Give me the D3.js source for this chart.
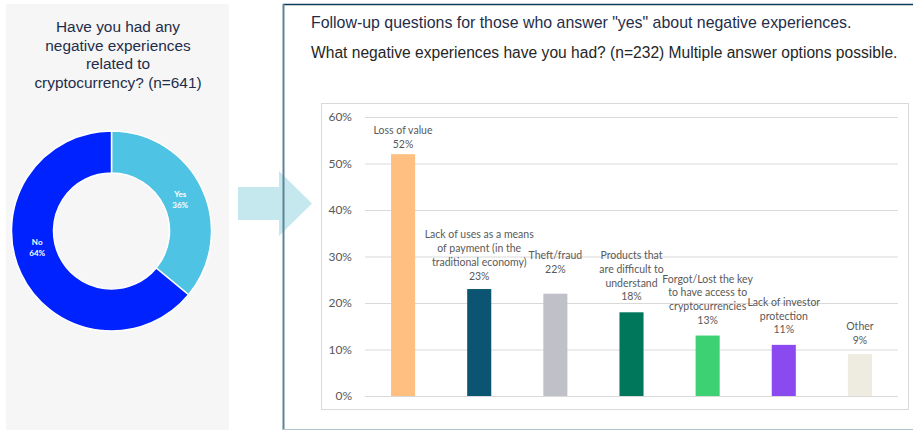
<!DOCTYPE html>
<html>
<head>
<meta charset="utf-8">
<script src="https://cdn.jsdelivr.net/npm/d3@7"></script>
<style>
  html, body { margin: 0; padding: 0; background: #ffffff; }
  svg { display: block; }
</style>
</head>
<body>
<svg id="chart" width="913" height="430"></svg>
<script>
// Donut: had negative experiences with cryptocurrency (n=641)
const donutLabels = ["Yes", "No"];
const donutValues = [36, 64];
const donutColors = ["#4fc3e3", "#0022ff"];

// Bars: negative experiences among "yes" respondents (n=232)
const barCategories = [
  ["Loss of value"],
  ["Lack of uses as a means", "of payment (in the", "traditional economy)"],
  ["Theft/fraud"],
  ["Products that", "are difficult to", "understand"],
  ["Forgot/Lost the key", "to have access to", "cryptocurrencies"],
  ["Lack of investor", "protection"],
  ["Other"]
];
const barValues = [52, 23, 22, 18, 13, 11, 9];
const barColors = ["#ffbf80", "#0b5572", "#bfc0c8", "#00775a", "#3ed174", "#8b4af0", "#eeebe0"];
const yTicks = [0, 10, 20, 30, 40, 50, 60];

const svg = d3.select("#chart");

// ---------- left panel ----------
svg.append("rect")
  .attr("x", 6).attr("y", 4).attr("width", 223).attr("height", 426)
  .attr("fill", "#f6f6f6");

const titleLines = ["Have you had any", "negative experiences", "related to", "cryptocurrency? (n=641)"];
svg.append("text")
  .attr("x", 118).attr("y", 32)
  .attr("text-anchor", "middle")
  .attr("font-family", "Liberation Sans, Arial, sans-serif")
  .attr("font-size", 15.4)
  .attr("fill", "#1f2d4a")
  .selectAll("tspan").data(titleLines).join("tspan")
  .attr("x", 118).attr("dy", (d, i) => i === 0 ? 0 : 18.5)
  .text(d => d);

const cx = 111.5, cy = 231, rOuter = 100, rInner = 58;
const pie = d3.pie().sort(null).value(d => d.value);
const arc = d3.arc().innerRadius(rInner).outerRadius(rOuter);
const donutData = pie(donutLabels.map((l, i) => ({ label: l, value: donutValues[i], color: donutColors[i] })));
const dg = svg.append("g").attr("transform", `translate(${cx},${cy})`);
dg.selectAll("path").data(donutData).join("path")
  .attr("d", arc)
  .attr("fill", d => d.data.color)
  .attr("stroke", "#ffffff")
  .attr("stroke-width", 1.5);

// label anchor inside the ring; the large slice's label sits a little past its midpoint
const labelPos = d => {
  const f = (d.endAngle - d.startAngle) > Math.PI ? 0.557 : 0.5;
  const a = d.startAngle + (d.endAngle - d.startAngle) * f;
  const r = 76;
  return [Math.sin(a) * r, -Math.cos(a) * r];
};
dg.selectAll("text.dl").data(donutData).join("text")
  .attr("class", "dl")
  .attr("transform", d => `translate(${labelPos(d)})`)
  .attr("text-anchor", "middle")
  .attr("font-family", "Lato, Open Sans, sans-serif")
  .attr("font-size", 8)
  .attr("font-weight", "bold")
  .attr("fill", "#ffffff")
  .each(function (d) {
    const t = d3.select(this);
    t.append("tspan").attr("x", 0).attr("dy", -2).text(d.data.label);
    t.append("tspan").attr("x", 0).attr("dy", 11).text(d.data.value + "%");
  });

// ---------- arrow ----------
svg.append("path")
  .attr("d", d3.line()([[238, 187], [279, 187], [279, 171], [312, 203.5], [279, 236], [279, 220], [238, 220]]) + "Z")
  .attr("fill", "#c5e8ef");

// ---------- right panel frame ----------
svg.append("line").attr("x1", 283).attr("x2", 913).attr("y1", 4.5).attr("y2", 4.5)
  .attr("stroke", "#0d3b5e").attr("stroke-width", 1.5);
svg.append("line").attr("x1", 283.5).attr("x2", 283.5).attr("y1", 4).attr("y2", 430)
  .attr("stroke", "#5f8395").attr("stroke-width", 2);
svg.append("line").attr("x1", 283).attr("x2", 913).attr("y1", 429.5).attr("y2", 429.5)
  .attr("stroke", "#b0c4cc").attr("stroke-width", 1);

svg.append("text")
  .attr("x", 311).attr("y", 28)
  .attr("font-family", "Liberation Sans, Arial, sans-serif")
  .attr("font-size", 15.9)
  .attr("fill", "#1f2d4a")
  .text('Follow-up questions for those who answer "yes" about negative experiences.');
svg.append("text")
  .attr("x", 311).attr("y", 58)
  .attr("font-family", "Liberation Sans, Arial, sans-serif")
  .attr("font-size", 15.6)
  .attr("fill", "#262626")
  .text("What negative experiences have you had? (n=232) Multiple answer options possible.");

// chart area border
svg.append("rect")
  .attr("x", 321.5).attr("y", 103.5).attr("width", 587).attr("height", 306)
  .attr("fill", "none").attr("stroke", "#d9d9d9").attr("stroke-width", 1);

// ---------- bar chart ----------
const x = d3.scaleBand().domain(d3.range(barValues.length)).range([365, 898]).paddingInner(0.684).paddingOuter(0.342);
const y = d3.scaleLinear().domain([0, 60]).range([396, 117]);

const yAxis = d3.axisLeft(y).tickValues(yTicks).tickFormat(d => d + "%").tickSize(-(898 - 365)).tickPadding(13);
const ga = svg.append("g").attr("transform", "translate(365,0)").call(yAxis);
ga.select(".domain").remove();
ga.selectAll(".tick line").attr("stroke", "#d9d9d9").attr("stroke-width", 1);
ga.selectAll(".tick text")
  .attr("font-family", "Lato, Open Sans, sans-serif")
  .attr("font-size", 12)
  .attr("fill", "#595959");

svg.append("g").selectAll("rect").data(barValues).join("rect")
  .attr("x", (d, i) => x(i))
  .attr("y", d => y(d))
  .attr("width", x.bandwidth())
  .attr("height", d => y(0) - y(d))
  .attr("fill", (d, i) => barColors[i]);

// data labels: category lines followed by the value, nudged apart where crowded
const lineH = 13.8;
const labelLift = [-3, 0, 11.5, 2.5, 2, 2, 0.5];
const lg = svg.append("g")
  .attr("font-family", "Lato, Open Sans, sans-serif")
  .attr("font-size", 10.5)
  .attr("fill", "#595959")
  .attr("text-anchor", "middle");
barValues.forEach((v, i) => {
  const lines = barCategories[i].concat([v + "%"]);
  const cxb = x(i) + x.bandwidth() / 2;
  const baseY = y(v) - 9.5 - labelLift[i];
  const t = lg.append("text");
  lines.forEach((s, k) => {
    t.append("tspan")
      .attr("x", cxb)
      .attr("y", baseY - (lines.length - 1 - k) * lineH)
      .text(s);
  });
});
</script>
</body>
</html>
